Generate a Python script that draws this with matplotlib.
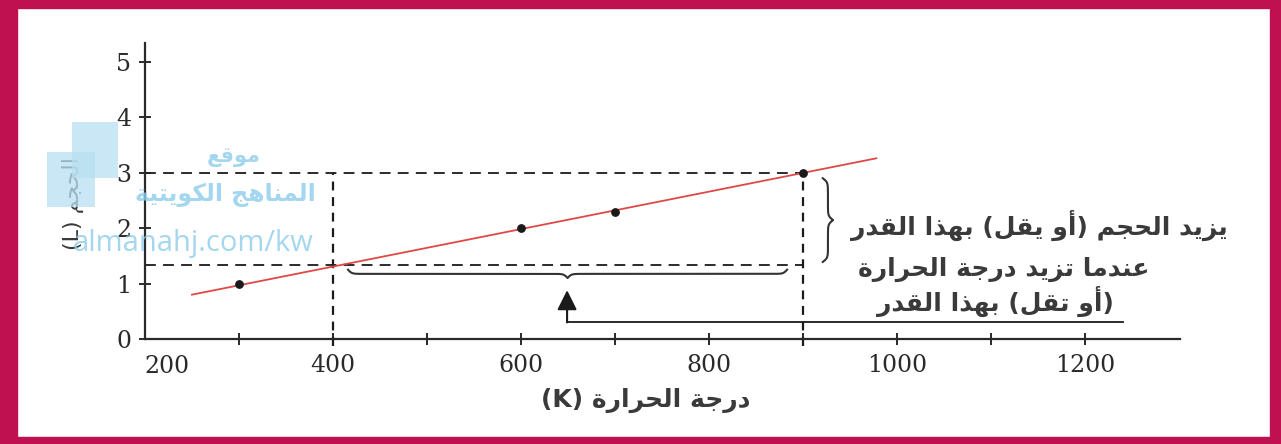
import numpy as np
import matplotlib
matplotlib.use("Agg")
import matplotlib.pyplot as plt
from matplotlib.patches import Rectangle

# ---------------- data ----------------
temps = [300, 600, 700, 900]          # K
volumes = [1.0, 2.0, 2.3, 3.0]        # L
fit_T = [250, 978]
fit_V = [0.80, 3.26]
ref_T = [400, 900]
ref_V = [1.33, 3.0]
y_ticks = [0, 1, 2, 3, 4, 5]
x_ticks = [300, 400, 500, 600, 700, 800, 900, 1000, 1100, 1200]
x_ticklabels = ["", "400", "", "600", "", "800", "", "1000", "", "1200"]
first_x_label = "200"

xlabel_ar = "درجة الحرارة (K)"
ylabel_ar = "الحجم (L)"
note_v = "يزيد الحجم (أو يقل) بهذا القدر"
note_t1 = "عندما تزيد درجة الحرارة"
note_t2 = "(أو تقل) بهذا القدر"
wm1 = "موقع"
wm2 = "المناهج الكويتية"
wm3 = "almanahj.com/kw"

# ---------------- simple Arabic shaping ----------------
FORMS = {
    'ا': ('\uFE8D', '\uFE8E', None, None),
    'أ': ('\uFE83', '\uFE84', None, None),
    'ب': ('\uFE8F', '\uFE90', '\uFE91', '\uFE92'),
    'ة': ('\uFE93', '\uFE94', None, None),
    'ت': ('\uFE95', '\uFE96', '\uFE97', '\uFE98'),
    'ج': ('\uFE9D', '\uFE9E', '\uFE9F', '\uFEA0'),
    'ح': ('\uFEA1', '\uFEA2', '\uFEA3', '\uFEA4'),
    'د': ('\uFEA9', '\uFEAA', None, None),
    'ذ': ('\uFEAB', '\uFEAC', None, None),
    'ر': ('\uFEAD', '\uFEAE', None, None),
    'ز': ('\uFEAF', '\uFEB0', None, None),
    'ع': ('\uFEC9', '\uFECA', '\uFECB', '\uFECC'),
    'ق': ('\uFED5', '\uFED6', '\uFED7', '\uFED8'),
    'ك': ('\uFED9', '\uFEDA', '\uFEDB', '\uFEDC'),
    'ل': ('\uFEDD', '\uFEDE', '\uFEDF', '\uFEE0'),
    'م': ('\uFEE1', '\uFEE2', '\uFEE3', '\uFEE4'),
    'ن': ('\uFEE5', '\uFEE6', '\uFEE7', '\uFEE8'),
    'ه': ('\uFEE9', '\uFEEA', '\uFEEB', '\uFEEC'),
    'و': ('\uFEED', '\uFEEE', None, None),
    'ي': ('\uFEF1', '\uFEF2', '\uFEF3', '\uFEF4'),
}
LAMALEF = {'ا': ('\uFEFB', '\uFEFC'), 'أ': ('\uFEF7', '\uFEF8')}


def shape(s):
    out = []
    i = 0
    n = len(s)
    while i < n:
        c = s[i]
        if c not in FORMS:
            out.append(c)
            i += 1
            continue
        prev = s[i - 1] if i > 0 else None
        jp = prev in FORMS and FORMS[prev][2] is not None
        nxt = s[i + 1] if i + 1 < n else None
        if c == 'ل' and nxt in LAMALEF:
            out.append(LAMALEF[nxt][1 if jp else 0])
            i += 2
            continue
        f = FORMS[c]
        jn = f[2] is not None and nxt in FORMS
        if jp and jn:
            g = f[3]
        elif jp:
            g = f[1]
        elif jn:
            g = f[2]
        else:
            g = f[0]
        out.append(g)
        i += 1
    return "".join(out)


def vis(s):
    r = shape(s)[::-1]
    return r.translate(str.maketrans({'(': ')', ')': '('}))


AR = ['DejaVu Sans']
SERIF = ['DejaVu Serif', 'DejaVu Sans']
TXT = '#3a3a3a'

W, H = 1281, 444
fig = plt.figure(figsize=(W / 100, H / 100), dpi=100)
fig.patch.set_facecolor('white')


def px(x, y):
    return x / W, 1 - y / H


# border
border = '#BF1150'
for (x0, y0, w, h) in [(0, 0, 17, H), (0, 0, W, 8), (1270, 0, 11, H), (0, 437, W, 7)]:
    fig.patches.append(Rectangle((x0 / W, 1 - (y0 + h) / H), w / W, h / H,
                                 transform=fig.transFigure, color=border, zorder=0))

ax = fig.add_axes([145 / W, (H - 339) / H, (1180 - 145) / W, (339 - 43) / H])
ax.set_xlim(200, 1301)
ax.set_ylim(0, 5.34)
ax.set_facecolor('none')
for s in ['top', 'right']:
    ax.spines[s].set_visible(False)
for s in ['left', 'bottom']:
    ax.spines[s].set_linewidth(1.6)
    ax.spines[s].set_color('#2a2a2a')

ax.set_yticks(y_ticks)
ax.set_yticklabels([str(v) for v in y_ticks])
ax.set_xticks(x_ticks)
ax.set_xticklabels(x_ticklabels)
ax.tick_params(axis='both', direction='inout', length=8, width=1.4, colors='#2a2a2a',
               labelsize=17)
ax.tick_params(axis='x', pad=7)
ax.tick_params(axis='y', pad=6)
for lab in ax.get_xticklabels() + ax.get_yticklabels():
    lab.set_family(SERIF)
    lab.set_color('#2a2a2a')
ax.text(223, -0.28, first_x_label, ha='center', va='top', fontsize=17,
        family=SERIF, color='#2a2a2a', transform=ax.transData, clip_on=False)

# dashed reference lines
dash = dict(color='#1a1a1a', lw=1.3, dashes=(6, 4), clip_on=False)
for v in ref_V:
    ax.plot([200, ref_T[1]], [v, v], **dash)
for t in ref_T:
    ax.plot([t, t], [-0.12, ref_V[1]], **dict(dash, dashes=(4, 3), lw=1.6))

# fit line and data
ax.plot(fit_T, fit_V, color='#E04848', lw=1.3, zorder=3)
ax.scatter(temps, volumes, s=28, color='#1a1a1a', zorder=4)


def brace_curve(a, b, beta, n=401):
    t = np.linspace(a, b, n)
    half = t[: n // 2 + 1]
    yh = 1 / (1 + np.exp(-beta * (half - half[0]))) + 1 / (1 + np.exp(-beta * (half - half[-1])))
    y = np.concatenate([yh, yh[-2::-1]])
    return t, y - 0.5


# horizontal brace under the temperature change
bx, by = brace_curve(ref_T[0] + 16, ref_T[1] - 17, 0.5)
ax.plot(bx, 1.25 - 0.15 * by, color='#333333', lw=1.5, clip_on=False)

# vertical brace next to the volume change
vy, vx = brace_curve(ref_V[0] + 0.06, ref_V[1] - 0.1, 28)
ax.plot(921 + 11 * vx, vy, color='#333333', lw=1.5, clip_on=False)

# arrow and guide line
arrow_T = (ref_T[0] + ref_T[1]) / 2 - 1
ax.annotate('', xy=(arrow_T, 0.88), xytext=(arrow_T, 0.30),
            arrowprops=dict(arrowstyle='-|>', mutation_scale=30, color='#1a1a1a', lw=1.5,
                            shrinkA=0, shrinkB=0))
ax.plot([arrow_T, 1240], [0.31, 0.31], color='#1a1a1a', lw=1.3, clip_on=False)

# notes
NOTE = dict(fontsize=18, fontweight='bold', family=AR, color=TXT)
fig.text(*px(1228, 225), vis(note_v), ha='right', va='center', **NOTE)
fig.text(*px(1150, 269), vis(note_t1), ha='right', va='center', **NOTE)
fig.text(*px(995, 301), vis(note_t2), ha='center', va='center', **NOTE)

# axis labels
fig.text(*px(646, 400), vis(xlabel_ar), ha='center', va='center', **NOTE)
fig.text(*px(73, 203), vis(ylabel_ar), ha='center', va='center', rotation=90,
         fontsize=16, family=AR, color=TXT)

# watermark
wm_c = '#8ECDEB'
for (x0, y0, x1, y1) in [(72, 122, 118, 178), (47, 152, 95, 207)]:
    fig.patches.append(Rectangle((x0 / W, 1 - y1 / H), (x1 - x0) / W, (y1 - y0) / H,
                                 transform=fig.transFigure, color='#B8DFF1', alpha=0.75,
                                 zorder=5, lw=0))
fig.text(*px(234, 157), vis(wm1), ha='center', va='center', fontsize=15,
         fontweight='bold', family=AR, color=wm_c, alpha=0.8, zorder=6)
fig.text(*px(225, 195), vis(wm2), ha='center', va='center', fontsize=17,
         fontweight='bold', family=AR, color=wm_c, alpha=0.8, zorder=6)
fig.text(*px(193, 243), wm3, ha='center', va='center', fontsize=21,
         family=['Open Sans', 'DejaVu Sans'], color=wm_c, alpha=0.8, zorder=6)

fig.savefig('out.png', dpi=100, facecolor='white')
